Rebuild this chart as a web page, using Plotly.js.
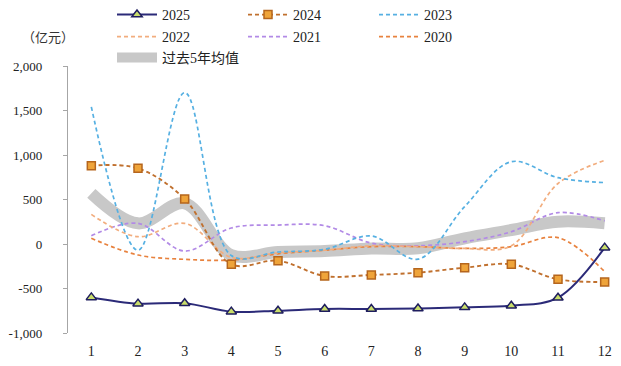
<!DOCTYPE html>
<html><head><meta charset="utf-8">
<script src="https://cdn.plot.ly/plotly-3.0.1.min.js"></script>
<style>html,body{margin:0;padding:0;background:#fff;}</style>
</head><body>
<div id="chart" style="width:621px;height:366px;"></div>
<script>
const months = [1,2,3,4,5,6,7,8,9,10,11,12];
const xTickLabels = ['1','2','3','4','5','6','7','8','9','10','11','12'];
const yTickVals = [-1000,-500,0,500,1000,1500,2000];
const yTickLabels = ['-1,000','-500','0','500','1,000','1,500','2,000'];
const v2025 = [-600,-670,-665,-760,-750,-730,-730,-725,-712,-693,-603,-41];
const v2024 = [880,850,506,-228,-187,-360,-348,-322,-266,-228,-397,-427];
const v2023 = [1540,-70,1700,-130,-90,-60,90,-170,420,925,745,690];
const v2022 = [333,82,232,-150,-100,-70,-20,-30,-50,-20,680,940];
const v2021 = [93,232,-79,180,213,206,10,-20,26,138,352,260];
const v2020 = [64,-124,-172,-180,-110,-70,-30,-30,-50,-30,71,-311];
const vAvg = [570,232,457,-124,-90,-80,-50,-48,64,157,251,232];

const serif = '"Liberation Serif", "Times New Roman", "DejaVu Serif", serif';
const smooth = {shape:'spline', smoothing:1};
const dsh = '4px,3px';
const traces = [
  {name:'过去5年均值', x:months, y:vAvg, mode:'lines', legend:'legend3',
   line:Object.assign({color:'#C8C8C8', width:12}, smooth)},
  {name:'2020', x:months, y:v2020, mode:'lines', legend:'legend2',
   line:Object.assign({color:'#E8823E', width:1.7, dash:dsh}, smooth)},
  {name:'2021', x:months, y:v2021, mode:'lines', legend:'legend2',
   line:Object.assign({color:'#B28AE6', width:1.7, dash:dsh}, smooth)},
  {name:'2022', x:months, y:v2022, mode:'lines', legend:'legend2',
   line:Object.assign({color:'#F2AD7E', width:1.7, dash:dsh}, smooth)},
  {name:'2023', x:months, y:v2023, mode:'lines', legend:'legend',
   line:Object.assign({color:'#56B0E2', width:1.7, dash:dsh}, smooth)},
  {name:'2024', x:months, y:v2024, mode:'lines+markers', legend:'legend',
   line:Object.assign({color:'#C0702E', width:1.9, dash:dsh}, smooth),
   marker:{symbol:'square', size:8, color:'#EFA43A', line:{color:'#B5651D', width:1.5}}},
  {name:'2025', x:months, y:v2025, mode:'lines+markers', legend:'legend',
   line:Object.assign({color:'#2B2A78', width:2}, smooth),
   marker:{symbol:'triangle-up', size:9, color:'#C9DD6A', line:{color:'#1E1D5E', width:1.5}}}
];

const legendBase = {orientation:'h', xref:'container', yref:'container', xanchor:'left', yanchor:'middle',
  traceorder:'reversed', entrywidth:76, entrywidthmode:'pixels', bgcolor:'rgba(0,0,0,0)',
  font:{family:serif + ', "Noto Sans CJK SC"', size:14, color:'#222'}, itemwidth:40};

const layout = {
  width:621, height:366,
  margin:{l:68, r:0, t:66, b:33, autoexpand:false},
  paper_bgcolor:'#fff', plot_bgcolor:'#fff',
  showlegend:true,
  legend:Object.assign({}, legendBase, {x:112/621, y:1-15/366}),
  legend2:Object.assign({}, legendBase, {x:112/621, y:1-37/366}),
  legend3:Object.assign({}, legendBase, {x:112/621, y:1-58/366}),
  xaxis:{range:[0.5,12.35], tickvals:months, ticktext:xTickLabels, showline:false, showgrid:false,
    zeroline:false, ticks:'', ticklabelstandoff:8,
    tickfont:{family:serif, size:14, color:'#222'}},
  xaxis2:{overlaying:'x', anchor:'free', position:1/3, range:[0.5,12.35], showline:true, linecolor:'#A6A6A6',
    linewidth:1.5, ticks:'inside', ticklen:4, tickcolor:'#A6A6A6', tickvals:[1.5,2.5,3.5,4.5,5.5,6.5,7.5,8.5,9.5,10.5,11.5],
    showticklabels:false, showgrid:false, zeroline:false},
  yaxis:{range:[-1000,2000], tickvals:yTickVals, ticktext:yTickLabels, showline:true, linecolor:'#A6A6A6',
    linewidth:1.2, ticks:'outside', ticklen:4, tickcolor:'#A6A6A6', showgrid:false, zeroline:false,
    ticklabelstandoff:18, tickfont:{family:serif, size:13, color:'#222'}},
  annotations:[{text:'（亿元）', xref:'paper', yref:'paper', x:-48/553, xanchor:'left', y:1+29/267, yanchor:'middle',
    showarrow:false, font:{family:'"Noto Sans CJK SC"', size:13, color:'#333'}}]
};

Plotly.newPlot('chart', traces, layout, {displayModeBar:false, staticPlot:true});
</script>
</body></html>
